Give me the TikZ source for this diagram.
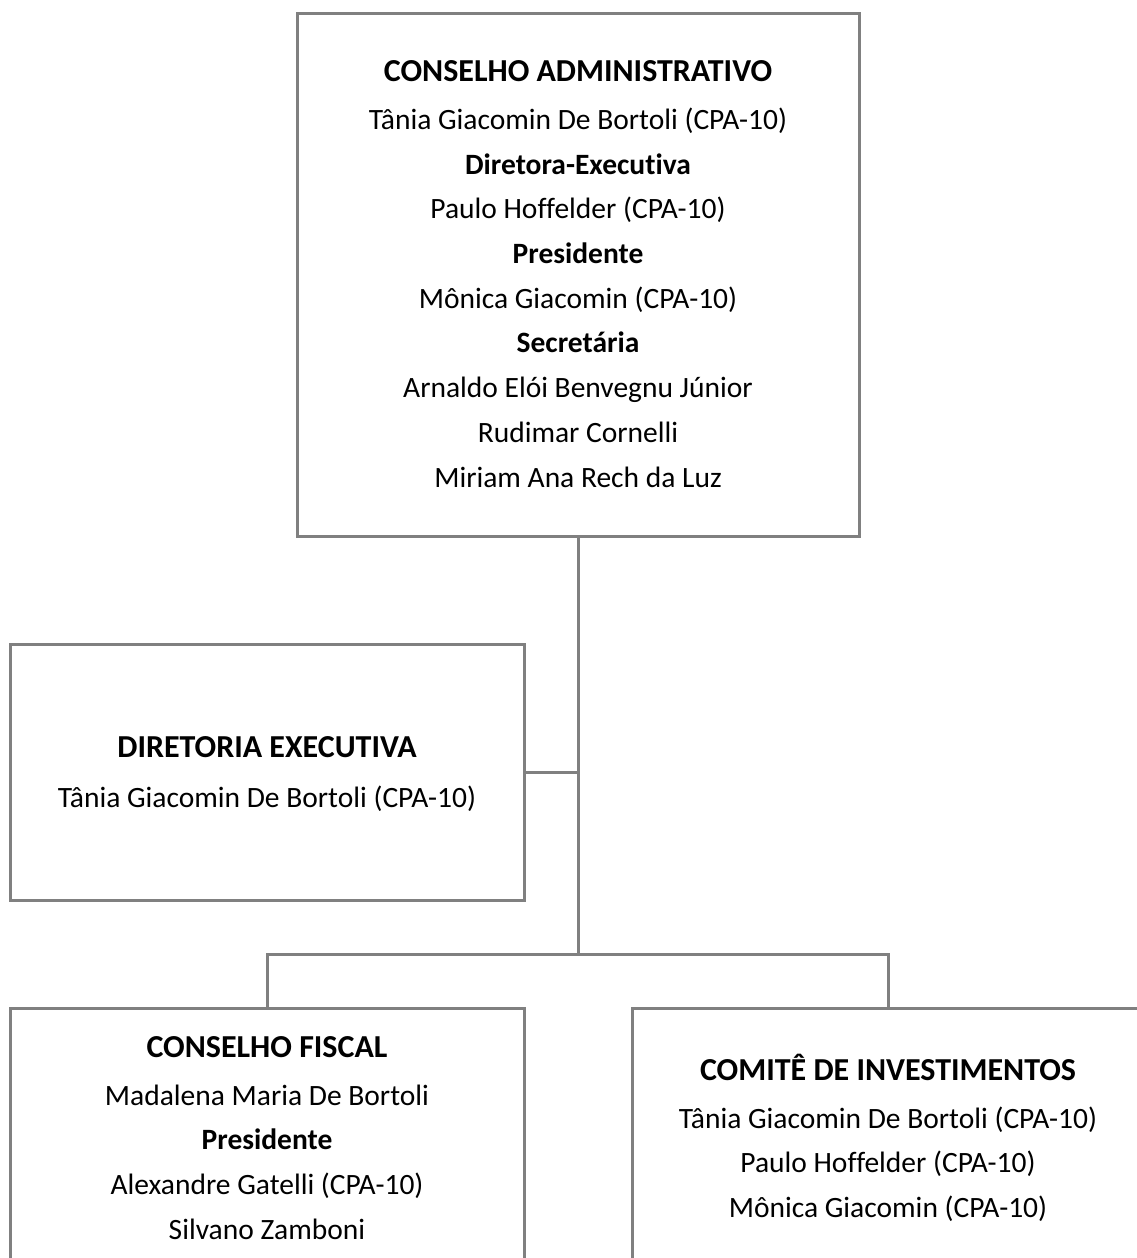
\documentclass[tikz,border=0pt]{standalone}
\usepackage{fontspec}
\setmainfont{Carlito}[Ligatures=NoCommon]
\definecolor{linha}{RGB}{128,128,128}
\newcommand{\titulo}[1]{{\fontsize{32}{44.7}\selectfont\bfseries #1}}
\begin{document}
\begin{tikzpicture}[x=1pt,y=-1pt,
    caixa/.style={draw=linha, line width=3pt, rectangle, inner sep=0pt},
    texto/.style={align=center, font=\fontsize{29.5}{44.7}\selectfont, inner sep=0pt},
    liga/.style={draw=linha, line width=3pt}]
    \useasboundingbox (0,0) rectangle (1137,1258);
    \clip (0,0) rectangle (1137,1258);
    % caixas
    \node[caixa, minimum width=562pt, minimum height=523pt] (ca) at (578,274.5) {};
    \node[caixa, minimum width=514pt, minimum height=256pt] (de) at (267,772) {};
    \node[caixa, anchor=north, minimum width=514pt, minimum height=400pt] (cf) at (267,1007) {};
    \node[caixa, anchor=north, minimum width=512pt, minimum height=400pt] (ci) at (888,1007) {};
    % textos
    \node[texto] (tca) at (578,274) {\titulo{CONSELHO ADMINISTRATIVO}\\[3pt]
        Tânia Giacomin De Bortoli (CPA-10)\\ \textbf{Diretora-Executiva}\\
        Paulo Hoffelder (CPA-10)\\ \textbf{Presidente}\\
        Mônica Giacomin (CPA-10)\\ \textbf{Secretária}\\
        Arnaldo Elói Benvegnu Júnior\\ Rudimar Cornelli\\ Miriam Ana Rech da Luz};
    \node[texto] (tde) at (267,774) {\titulo{DIRETORIA EXECUTIVA}\\[5pt]
        Tânia Giacomin De Bortoli (CPA-10)};
    \node[texto] (tcf) at (267,1138) {\titulo{CONSELHO FISCAL}\\[3pt]
        Madalena Maria De Bortoli\\ \textbf{Presidente}\\
        Alexandre Gatelli (CPA-10)\\ Silvano Zamboni};
    \node[texto] (tci) at (888,1138) {\titulo{COMITÊ DE INVESTIMENTOS}\\[3pt]
        Tânia Giacomin De Bortoli (CPA-10)\\ Paulo Hoffelder (CPA-10)\\
        Mônica Giacomin (CPA-10)};
    % ligacoes
    \coordinate (j) at (578,954);
    \draw[liga] (ca.south) -- (j);
    \draw[liga] (de.east) -- (de.east -| j);
    \draw[liga] (cf.north) -- (cf.north |- j) -- (ci.north |- j) -- (ci.north);
\end{tikzpicture}
\end{document}
